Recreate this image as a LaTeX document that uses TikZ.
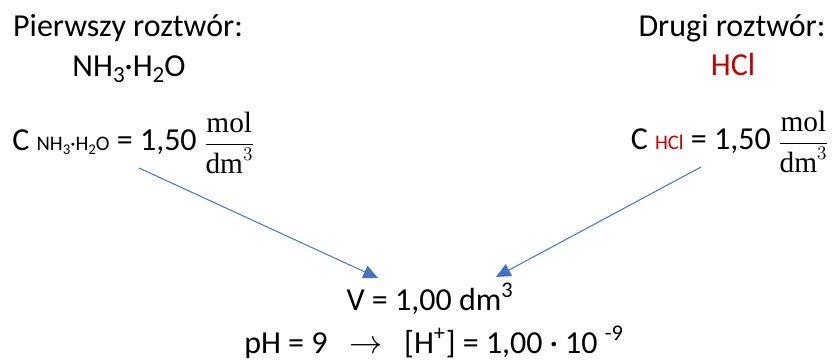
\documentclass[tikz,border=0pt]{standalone}
\usepackage{amsmath}
\usepackage{fontspec}
\setmainfont{Carlito}
\setmathrm{Liberation Serif}
\usetikzlibrary{arrows.meta,positioning,calc}
\definecolor{Link}{HTML}{4472C4}
\definecolor{Acid}{HTML}{C00000}
\newcommand{\idx}[1]{\raisebox{-0.35ex}{\scalebox{0.72}{#1}}}
\newcommand{\unitfrac}{{\fontsize{22}{26}\selectfont$\dfrac{\mathrm{mol}}{\mathrm{dm}^3}$}}
\tikzset{
  >={Triangle[length=11pt,width=10pt]},
  txt/.style={font=\fontsize{24}{29}\selectfont,inner sep=0pt,anchor=base},
  link/.style={->,draw=Link,line width=.75pt}
}

\begin{document}
\begin{tikzpicture}[x=.75pt,y=-.75pt]
  \useasboundingbox (0,0) rectangle (833,360);
  % left solution
  \node[txt] (t1) at (128,37) {Pierwszy roztwór:};
  \node[txt] (s1) at (129,77) {NH\idx{3}·H\idx{2}O};
  \node[txt,anchor=base west] (c1) at (12,151)
    {C {\fontsize{15.5}{18}\selectfont NH\idx{3}·H\idx{2}O} = 1,50 \unitfrac};
  % right solution
  \node[txt] (t2) at (732,37) {Drugi roztwór:};
  \node[txt,text=Acid] (s2) at (733,76) {HCl};
  \node[txt,anchor=base east] (c2) at (829,150)
    {C {\fontsize{15.5}{18}\selectfont\color{Acid}HCl} = 1,50 \unitfrac};
  % result
  \node[txt] (v) at (430,310) {V = 1,00 dm\textsuperscript{3}};
  \node[txt] (ph) at (434,353)
    {pH = 9 \ \ $\rightarrow$ \ \ [H\textsuperscript{+}] = 1,00 · 10 \textsuperscript{-9}};
  \coordinate (a1) at (139,168);
  \coordinate (a2) at (701,167);
  \coordinate (b1) at (378,278);
  \coordinate (b2) at (496,277);
  \draw[link] (a1)--(b1);
  \draw[link] (a2)--(b2);
\end{tikzpicture}
\end{document}
